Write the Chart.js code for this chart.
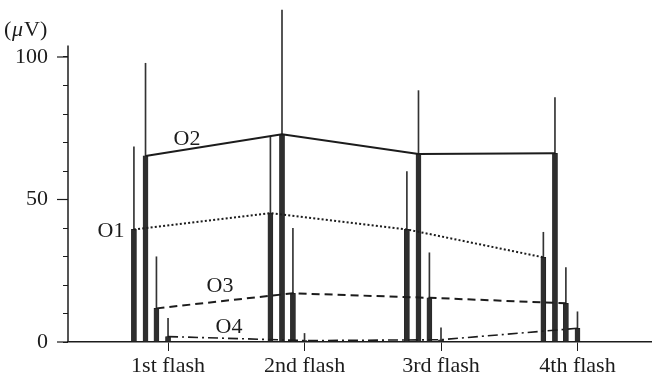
<!DOCTYPE html>
<html>
<head>
<meta charset="utf-8">
<script src="https://cdn.jsdelivr.net/npm/chart.js@4.4.0/dist/chart.umd.min.js"></script>
<style>
  html, body { margin: 0; padding: 0; background: #fff; }
  #wrap { width: 652px; height: 379px; }
</style>
</head>
<body>
<div id="wrap"><canvas id="chart"></canvas></div>
<script>
// --- Data (in µV) ---
const flashLabels = ['1st flash', '2nd flash', '3rd flash', '4th flash'];
const seriesNames = ['O1', 'O2', 'O3', 'O4'];
const o1Mean  = [39.5, 45.2, 39.5, 29.7];
const o1Upper = [68.5, 72.0, 59.8, 38.5];
const o2Mean  = [65.3, 72.9, 66.0, 66.2];
const o2Upper = [97.8, 116.5, 88.2, 85.8];
const o3Mean  = [11.8, 17.1, 15.5, 13.6];
const o3Upper = [29.9, 39.9, 31.3, 26.1];
const o4Mean  = [1.9, 0.5, 0.8, 4.8];
const o4Upper = [8.3, 3.0, 5.0, 10.6];
const yTicks = [0, 10, 20, 30, 40, 50, 60, 70, 80, 90, 100];
const yLabelled = [0, 50, 100];

const means = [o1Mean, o2Mean, o3Mean, o4Mean];
const uppers = [o1Upper, o2Upper, o3Upper, o4Upper];

// where each electrode's bar sits relative to the flash position
const barOffset = [-0.25, -0.165, -0.085, 0];
const lineDash = [[2, 2.2], [], [8, 5], [10, 4, 2, 4]];
const lineWidth = [2, 2, 2, 1.6];

const ink = '#1c1c1c';
Chart.defaults.font.family = '"Liberation Serif", "Times New Roman", serif';
Chart.defaults.font.size = 22;
Chart.defaults.color = ink;

const datasets = [];
seriesNames.forEach((name, s) => {
    const pts = means[s].map((v, i) => ({ x: i + 1 + barOffset[s], y: v }));
    // error bars: thin floating bars from mean to upper value
    datasets.push({
        type: 'bar',
        label: name + ' SD',
        data: means[s].map((v, i) => ({ x: i + 1 + barOffset[s], y: [v, uppers[s][i]] })),
        backgroundColor: '#333',
        barThickness: 1,
        grouped: false,
        order: 3
    });
    datasets.push({
        type: 'bar',
        label: name,
        data: pts,
        backgroundColor: '#2e2e2e',
        borderColor: '#111',
        borderWidth: 0.5,
        barThickness: 5,
        grouped: false,
        order: 2
    });
    datasets.push({
        type: 'line',
        label: name + ' line',
        data: pts,
        borderColor: ink,
        borderWidth: lineWidth[s],
        borderDash: lineDash[s],
        pointRadius: 0,
        tension: 0,
        order: 1
    });
});

// axis extras and text labels
const decorations = {
    id: 'decorations',
    afterDraw(chart) {
        const { ctx } = chart;
        const x = chart.scales.x, y = chart.scales.y;
        ctx.save();
        ctx.strokeStyle = ink;
        ctx.lineWidth = 1.5;
        // y axis line (stops a little above 100)
        ctx.beginPath();
        ctx.moveTo(x.left, y.getPixelForValue(0));
        ctx.lineTo(x.left, y.getPixelForValue(104));
        ctx.stroke();
        // longer ticks at the labelled values
        ctx.lineWidth = 1.2;
        yLabelled.forEach(v => {
            const py = y.getPixelForValue(v);
            ctx.beginPath();
            ctx.moveTo(x.left - 11, py);
            ctx.lineTo(x.left, py);
            ctx.stroke();
        });
        // series names beside the lines
        ctx.fillStyle = ink;
        ctx.font = '22px "Liberation Serif", serif';
        ctx.textAlign = 'center';
        ctx.textBaseline = 'middle';
        const tags = [['O1', 0.582, 38.9], ['O2', 1.139, 71.2], ['O3', 1.381, 19.6], ['O4', 1.447, 5.3]];
        tags.forEach(([t, vx, vy]) => ctx.fillText(t, x.getPixelForValue(vx), y.getPixelForValue(vy)));
        // unit
        ctx.textAlign = 'left';
        ctx.fillText('(', 4, 30);
        ctx.font = 'italic 22px "Liberation Serif", serif';
        ctx.fillText('\u03bc', 12, 30);
        ctx.font = '22px "Liberation Serif", serif';
        ctx.fillText('V)', 24, 30);
        ctx.restore();
    }
};

new Chart(document.getElementById('chart'), {
    type: 'bar',
    data: { datasets },
    options: {
        responsive: true,
        maintainAspectRatio: false,
        animation: false,
        layout: { padding: 0 },
        plugins: {
            legend: { display: false },
            tooltip: { enabled: false }
        },
        scales: {
            x: {
                type: 'linear',
                min: 0.267,
                max: 4.546,
                offset: false,
                afterBuildTicks: (s) => { s.ticks = flashLabels.map((_, i) => ({ value: i + 1 })); },
                afterFit: (s) => { s.height = 37; s.paddingLeft = 0; s.paddingRight = 0; },
                ticks: {
                    autoSkip: false,
                    maxRotation: 0,
                    padding: 2,
                    callback: (v) => flashLabels[v - 1]
                },
                grid: { offset: false, drawOnChartArea: false, tickLength: 9, color: ink, tickWidth: 1 },
                border: { display: true, color: ink, width: 1.5 }
            },
            y: {
                min: 0,
                max: 120,
                afterBuildTicks: (s) => { s.ticks = yTicks.map(v => ({ value: v })); },
                afterFit: (s) => { s.width = 68; s.paddingTop = 0; s.paddingBottom = 0; },
                ticks: {
                    padding: 15,
                    callback: (v) => yLabelled.includes(v) ? String(v) : ''
                },
                grid: { drawOnChartArea: false, tickLength: 5, color: ink, tickWidth: 1 },
                border: { display: false }
            }
        }
    },
    plugins: [decorations]
});
</script>
</body>
</html>
